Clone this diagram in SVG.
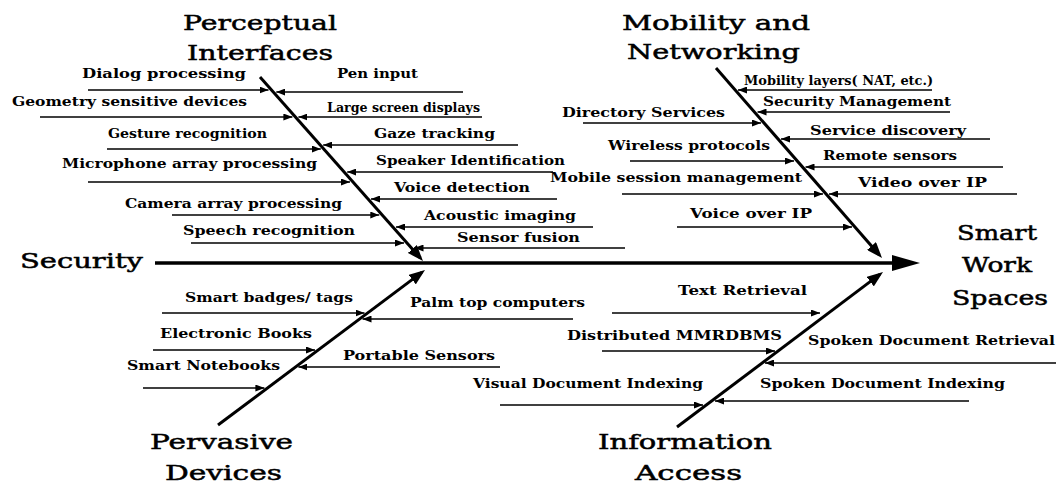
<svg xmlns="http://www.w3.org/2000/svg" width="1056" height="490" viewBox="0 0 1056 490">
<style>
.t{font-family:"DejaVu Serif","Liberation Serif",serif;font-size:21px;fill:#000;stroke:#000;stroke-width:0.5}
.s{font-family:"DejaVu Serif","Liberation Serif",serif;font-size:13px;font-weight:bold;fill:#000}
.sp{stroke:#000;stroke-width:3.5;fill:none}
.bn{stroke:#000;stroke-width:3;fill:none;marker-end:url(#big)}
.br{stroke:#000;stroke-width:1.5;fill:none;marker-end:url(#sm)}
</style>
<defs>
<marker id="sm" markerUnits="userSpaceOnUse" markerWidth="9" markerHeight="7" refX="9" refY="3.5" orient="auto"><path d="M0,0 L9,3.5 L0,7 Z" fill="#000"/></marker>
<marker id="big" markerUnits="userSpaceOnUse" markerWidth="16" markerHeight="12" refX="12" refY="6" orient="auto"><path d="M0,0 L16,6 L0,12 Z" fill="#000"/></marker>
<marker id="head" markerUnits="userSpaceOnUse" markerWidth="28" markerHeight="16" refX="13" refY="8" orient="auto"><path d="M0,0 L28,8 L0,16 Z" fill="#000"/></marker>
</defs>
<rect width="1056" height="490" fill="#fff"/>
<g id="connectors">
<path class="sp" d="M155,263 L905,263" marker-end="url(#head)"/>
<path class="bn" d="M260,77 L420.3,258"/>
<path class="bn" d="M716,68 L879.4,255"/>
<path class="bn" d="M218,425 L421.8,272.4"/>
<path class="bn" d="M677,427 L879.8,274.4"/>
<path class="br" d="M88,90 L268.5,90"/>
<path class="br" d="M40,117 L292.4,117"/>
<path class="br" d="M107,149 L320.8,149"/>
<path class="br" d="M88,182 L350,182"/>
<path class="br" d="M172,215 L379.3,215"/>
<path class="br" d="M191,243 L404,243"/>
<path class="br" d="M463,92 L276.3,92"/>
<path class="br" d="M482,117 L298.4,117"/>
<path class="br" d="M518,145 L323.2,145"/>
<path class="br" d="M553,172 L347.2,172"/>
<path class="br" d="M557,199 L371,199"/>
<path class="br" d="M593,227 L396,227"/>
<path class="br" d="M625,248 L414.5,248"/>
<path class="br" d="M932,90 L738,90"/>
<path class="br" d="M950,112 L757.5,112"/>
<path class="br" d="M990,139 L781,139"/>
<path class="br" d="M1003,167 L805.5,167"/>
<path class="br" d="M1017,194 L829,194"/>
<path class="br" d="M583,123 L761,123"/>
<path class="br" d="M630,161 L794,161"/>
<path class="br" d="M622,194 L823,194"/>
<path class="br" d="M677,227 L852,227"/>
<path class="br" d="M162,313 L364.5,313"/>
<path class="br" d="M153,350 L315,350"/>
<path class="br" d="M143,388 L264.4,388"/>
<path class="br" d="M573,319 L362.5,319"/>
<path class="br" d="M500,367 L298.4,367"/>
<path class="br" d="M612,313 L820,313"/>
<path class="br" d="M602,351 L775,351"/>
<path class="br" d="M500,405 L703,405"/>
<path class="br" d="M1056,363 L765,363"/>
<path class="br" d="M969,401 L715,401"/>
</g>
<g id="perceptual-interfaces"><text class="t" x="183" y="30" textLength="154" lengthAdjust="spacingAndGlyphs">Perceptual</text><text class="t" x="187" y="60" textLength="146" lengthAdjust="spacingAndGlyphs">Interfaces</text></g>
<g id="mobility-networking"><text class="t" x="622" y="30" textLength="188" lengthAdjust="spacingAndGlyphs">Mobility and</text><text class="t" x="627" y="59" textLength="173" lengthAdjust="spacingAndGlyphs">Networking</text></g>
<g id="security"><text class="t" x="20" y="268" textLength="123" lengthAdjust="spacingAndGlyphs">Security</text></g>
<g id="smart-work-spaces"><text class="t" x="957" y="240" textLength="80" lengthAdjust="spacingAndGlyphs">Smart</text><text class="t" x="962" y="272" textLength="70" lengthAdjust="spacingAndGlyphs">Work</text><text class="t" x="952" y="305" textLength="96" lengthAdjust="spacingAndGlyphs">Spaces</text></g>
<g id="pervasive-devices"><text class="t" x="150" y="449" textLength="143" lengthAdjust="spacingAndGlyphs">Pervasive</text><text class="t" x="165" y="480" textLength="117" lengthAdjust="spacingAndGlyphs">Devices</text></g>
<g id="information-access"><text class="t" x="598" y="449" textLength="174" lengthAdjust="spacingAndGlyphs">Information</text><text class="t" x="635" y="480" textLength="107" lengthAdjust="spacingAndGlyphs">Access</text></g>
<g id="dialog-processing"><text class="s" x="82" y="78" textLength="164" lengthAdjust="spacingAndGlyphs">Dialog processing</text></g>
<g id="geometry-sensitive-devices"><text class="s" x="12" y="106" textLength="235" lengthAdjust="spacingAndGlyphs">Geometry sensitive devices</text></g>
<g id="gesture-recognition"><text class="s" x="108" y="138" textLength="159" lengthAdjust="spacingAndGlyphs">Gesture recognition</text></g>
<g id="microphone-array"><text class="s" x="62" y="168" textLength="255" lengthAdjust="spacingAndGlyphs">Microphone array processing</text></g>
<g id="camera-array"><text class="s" x="125" y="208" textLength="217" lengthAdjust="spacingAndGlyphs">Camera array processing</text></g>
<g id="speech-recognition"><text class="s" x="183" y="235" textLength="172" lengthAdjust="spacingAndGlyphs">Speech recognition</text></g>
<g id="pen-input"><text class="s" x="337" y="78" textLength="81" lengthAdjust="spacingAndGlyphs">Pen input</text></g>
<g id="large-screen"><text class="s" x="327" y="112" textLength="153" lengthAdjust="spacingAndGlyphs">Large screen displays</text></g>
<g id="gaze-tracking"><text class="s" x="374" y="138" textLength="121" lengthAdjust="spacingAndGlyphs">Gaze tracking</text></g>
<g id="speaker-id"><text class="s" x="376" y="165" textLength="189" lengthAdjust="spacingAndGlyphs">Speaker Identification</text></g>
<g id="voice-detection"><text class="s" x="394" y="192" textLength="136" lengthAdjust="spacingAndGlyphs">Voice detection</text></g>
<g id="acoustic-imaging"><text class="s" x="424" y="220" textLength="152" lengthAdjust="spacingAndGlyphs">Acoustic imaging</text></g>
<g id="sensor-fusion"><text class="s" x="457" y="242" textLength="123" lengthAdjust="spacingAndGlyphs">Sensor fusion</text></g>
<g id="mobility-layers"><text class="s" x="744" y="85" textLength="189" lengthAdjust="spacingAndGlyphs">Mobility layers( NAT, etc.)</text></g>
<g id="security-management"><text class="s" x="763" y="106" textLength="188" lengthAdjust="spacingAndGlyphs">Security Management</text></g>
<g id="service-discovery"><text class="s" x="810" y="135" textLength="156" lengthAdjust="spacingAndGlyphs">Service discovery</text></g>
<g id="remote-sensors"><text class="s" x="823" y="160" textLength="134" lengthAdjust="spacingAndGlyphs">Remote sensors</text></g>
<g id="video-over-ip"><text class="s" x="858" y="187" textLength="129" lengthAdjust="spacingAndGlyphs">Video over IP</text></g>
<g id="directory-services"><text class="s" x="562" y="117" textLength="163" lengthAdjust="spacingAndGlyphs">Directory Services</text></g>
<g id="wireless-protocols"><text class="s" x="608" y="150" textLength="162" lengthAdjust="spacingAndGlyphs">Wireless protocols</text></g>
<g id="mobile-session"><text class="s" x="550" y="182" textLength="252" lengthAdjust="spacingAndGlyphs">Mobile session management</text></g>
<g id="voice-over-ip"><text class="s" x="690" y="218" textLength="122" lengthAdjust="spacingAndGlyphs">Voice over IP</text></g>
<g id="smart-badges"><text class="s" x="185" y="302" textLength="168" lengthAdjust="spacingAndGlyphs">Smart badges/ tags</text></g>
<g id="electronic-books"><text class="s" x="160" y="338" textLength="152" lengthAdjust="spacingAndGlyphs">Electronic Books</text></g>
<g id="smart-notebooks"><text class="s" x="127" y="370" textLength="153" lengthAdjust="spacingAndGlyphs">Smart Notebooks</text></g>
<g id="palm-top"><text class="s" x="410" y="307" textLength="175" lengthAdjust="spacingAndGlyphs">Palm top computers</text></g>
<g id="portable-sensors"><text class="s" x="343" y="360" textLength="152" lengthAdjust="spacingAndGlyphs">Portable Sensors</text></g>
<g id="text-retrieval"><text class="s" x="678" y="295" textLength="129" lengthAdjust="spacingAndGlyphs">Text Retrieval</text></g>
<g id="distributed-mmrdbms"><text class="s" x="567" y="340" textLength="215" lengthAdjust="spacingAndGlyphs">Distributed MMRDBMS</text></g>
<g id="visual-doc-indexing"><text class="s" x="473" y="388" textLength="230" lengthAdjust="spacingAndGlyphs">Visual Document Indexing</text></g>
<g id="spoken-doc-retrieval"><text class="s" x="808" y="345" textLength="247" lengthAdjust="spacingAndGlyphs">Spoken Document Retrieval</text></g>
<g id="spoken-doc-indexing"><text class="s" x="760" y="388" textLength="245" lengthAdjust="spacingAndGlyphs">Spoken Document Indexing</text></g>
</svg>
